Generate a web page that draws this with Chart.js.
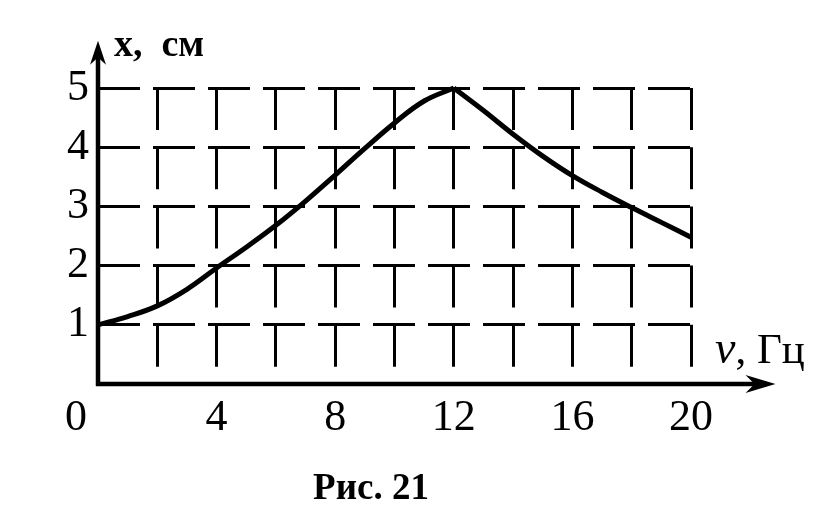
<!DOCTYPE html>
<html>
<head>
<meta charset="utf-8">
<script src="https://cdn.jsdelivr.net/npm/chart.js@4"></script>
<style>
  html, body { margin: 0; padding: 0; background: #fff; }
  #wrap { width: 819px; height: 519px; }
</style>
</head>
<body>
<div id="wrap"><canvas id="chart" width="819" height="519"></canvas></div>
<script>
const riseFreq = [0, 1, 2, 3, 4, 5, 6, 7, 8, 9, 10, 11, 12];
const riseAmp = [1.0, 1.14, 1.32, 1.6, 1.96, 2.31, 2.68, 3.09, 3.53, 3.98, 4.41, 4.78, 5.0];
const fallFreq = [12, 13, 14, 15, 16, 17, 18, 19, 20];
const fallAmp = [5.0, 4.62, 4.22, 3.85, 3.52, 3.24, 2.98, 2.73, 2.48];
const xTickLabels = [0, 4, 8, 12, 16, 20];
const yTickLabels = [1, 2, 3, 4, 5];
const yTitle = "x,  см";
const xTitleNu = "ν";
const xTitleRest = ", Гц";
const caption = "Рис. 21";

const serif = "'Liberation Serif', 'Times New Roman', serif";

function drawArrow(ctx, tx, ty, dx, dy, len, half) {
  const px = -dy, py = dx;
  const bx = tx - dx * len, by = ty - dy * len;
  const nx = tx - dx * len * 0.7, ny = ty - dy * len * 0.7;
  ctx.beginPath();
  ctx.moveTo(tx, ty);
  ctx.lineTo(bx + px * half, by + py * half);
  ctx.lineTo(nx, ny);
  ctx.lineTo(bx - px * half, by - py * half);
  ctx.closePath();
  ctx.fill();
}

const axesPlugin = {
  id: "axesPlugin",
  afterDraw(chart) {
    const ctx = chart.ctx;
    const xs = chart.scales.x, ys = chart.scales.y;
    const x0 = xs.getPixelForValue(0), y0 = ys.getPixelForValue(0);
    const xEnd = xs.getPixelForValue(22.85), yEnd = ys.getPixelForValue(5.8);
    ctx.save();
    ctx.strokeStyle = "#000";
    ctx.fillStyle = "#000";
    ctx.lineWidth = 4.5;
    ctx.beginPath();
    ctx.moveTo(x0, y0 + 2);
    ctx.lineTo(x0, yEnd + 10);
    ctx.moveTo(x0 - 2, y0);
    ctx.lineTo(xEnd - 10, y0);
    ctx.stroke();
    drawArrow(ctx, x0, yEnd, 0, -1, 24, 8);
    drawArrow(ctx, xEnd, y0, 1, 0, 30, 9);

    ctx.textAlign = "left";
    ctx.textBaseline = "alphabetic";
    ctx.font = "bold 38px " + serif;
    ctx.fillText(yTitle, x0 + 16, yEnd + 15);

    const lx = xs.getPixelForValue(20) + 24, ly = y0 - 21;
    ctx.font = "italic 46px " + serif;
    ctx.fillText(xTitleNu, lx, ly);
    const w = ctx.measureText(xTitleNu).width;
    ctx.font = "43px " + serif;
    ctx.fillText(xTitleRest, lx + w, ly);

    ctx.font = "bold 37px " + serif;
    ctx.textAlign = "center";
    ctx.fillText(caption, 371, 499);
    ctx.restore();
  }
};

const lineStyle = {
  borderColor: "#000",
  borderWidth: 5,
  pointRadius: 0,
  fill: false,
  tension: 0.4,
  clip: false,
};

new Chart(document.getElementById("chart").getContext("2d"), {
  type: "line",
  data: {
    datasets: [
      { ...lineStyle, data: riseFreq.map((f, i) => ({ x: f, y: riseAmp[i] })) },
      { ...lineStyle, data: fallFreq.map((f, i) => ({ x: f, y: fallAmp[i] })) },
    ],
  },
  options: {
    responsive: false,
    animation: false,
    layout: { padding: { left: 0, top: 88, right: 128, bottom: 0 } },
    plugins: {
      legend: { display: false },
      tooltip: { enabled: false },
    },
    scales: {
      x: {
        type: "linear",
        min: 0,
        max: 20,
        afterFit: (s) => { s.height = 135; },
        border: { display: false, dash: [42, 17.2] },
        grid: {
          color: (c) => (c.tick && c.tick.value === 0 ? "rgba(0,0,0,0)" : "#000"),
          lineWidth: 3,
          drawTicks: false,
        },
        ticks: {
          stepSize: 2,
          autoSkip: false,
          maxRotation: 0,
          minRotation: 0,
          padding: 8,
          color: "#000",
          font: { family: serif, size: 44 },
          callback: (v) => (xTickLabels.includes(v) ? (v === 0 ? "0    " : String(v)) : ""),
        },
      },
      y: {
        min: 0,
        max: 5,
        afterFit: (s) => { s.width = 98; },
        border: { display: false, dash: [42, 13] },
        grid: {
          color: (c) => (c.tick && c.tick.value === 0 ? "rgba(0,0,0,0)" : "#000"),
          lineWidth: 3,
          drawTicks: false,
        },
        ticks: {
          stepSize: 1,
          padding: 9,
          color: "#000",
          font: { family: serif, size: 44 },
          callback: (v) => (yTickLabels.includes(v) ? String(v) : ""),
        },
      },
    },
  },
  plugins: [axesPlugin],
});
</script>
</body>
</html>
